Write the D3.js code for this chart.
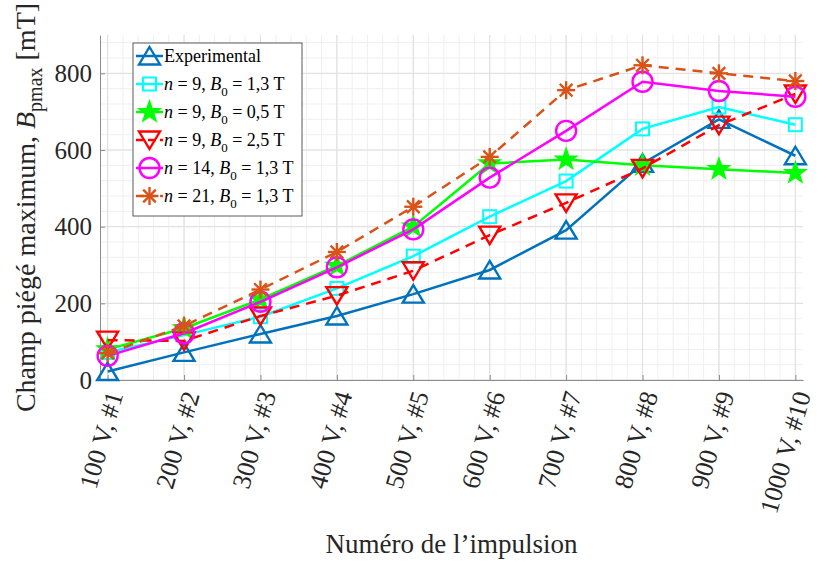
<!DOCTYPE html>
<html>
<head>
<meta charset="utf-8">
<script src="https://cdn.jsdelivr.net/npm/d3@7"></script>
<style>
  html, body { margin: 0; padding: 0; background: #fff; }
  svg { display: block; }
  text { font-family: "Liberation Serif", "Times New Roman", serif; }
</style>
</head>
<body>
<svg id="chart" width="819" height="561"></svg>
<script>
// ---------------- data ----------------
const categories = ["100 V, #1", "200 V, #2", "300 V, #3", "400 V, #4", "500 V, #5",
                    "600 V, #6", "700 V, #7", "800 V, #8", "900 V, #9", "1000 V, #10"];
const yTickValues = [0, 200, 400, 600, 800];

const experimental = [22, 72, 120, 167, 224, 287, 391, 565, 680, 585];
const n9B13 = [72, 117, 165, 239, 323, 426, 519, 655, 712, 666];
const n9B05 = [80, 135, 210, 298, 400, 565, 575, 560, 550, 540];
const n9B25 = [104, 102, 167, 220, 285, 378, 462, 552, 665, 746];
const n14B13 = [63, 122, 204, 294, 393, 528, 650, 778, 754, 739];
const n21B13 = [70, 141, 236, 334, 452, 582, 756, 821, 800, 780];

const seriesLabels = [
  { n: null, B0: null, text: "Experimental" },
  { n: "9", B0: "1,3" },
  { n: "9", B0: "0,5" },
  { n: "9", B0: "2,5" },
  { n: "14", B0: "1,3" },
  { n: "21", B0: "1,3" }
];

const series = [
  { values: experimental, color: "#0072BD", marker: "triUp",   dash: null },
  { values: n9B13,        color: "#00FFFF", marker: "square",  dash: null },
  { values: n9B05,        color: "#00FF00", marker: "star",    dash: null },
  { values: n9B25,        color: "#FF0000", marker: "triDown", dash: "10,7" },
  { values: n14B13,       color: "#FF00FF", marker: "circle",  dash: null },
  { values: n21B13,       color: "#D95319", marker: "asterisk",dash: "10,7" }
];

// ---------------- layout ----------------
const svg = d3.select("#chart");
const L = 100, R = 803, T = 35, B = 380;

const x = d3.scaleLinear().domain([0.9, 10.1]).range([L, R]);
const y = d3.scaleLinear().domain([0, 900]).range([B, T]);

// grid
const grid = svg.append("g");
const xMinor = d3.range(1, 10.1 + 1e-9, 0.2).filter(v => v >= 0.9 && v <= 10.1);
const yMinor = d3.range(0, 900 + 1e-9, 40);
grid.selectAll(".xm").data(xMinor).enter().append("line")
  .attr("x1", d => x(d)).attr("x2", d => x(d)).attr("y1", T).attr("y2", B)
  .attr("stroke", "#efefef").attr("stroke-width", 1);
grid.selectAll(".ym").data(yMinor).enter().append("line")
  .attr("x1", L).attr("x2", R).attr("y1", d => y(d)).attr("y2", d => y(d))
  .attr("stroke", "#efefef").attr("stroke-width", 1);
grid.selectAll(".xM").data(d3.range(1, 11)).enter().append("line")
  .attr("x1", d => x(d)).attr("x2", d => x(d)).attr("y1", T).attr("y2", B)
  .attr("stroke", "#dedede").attr("stroke-width", 1);
grid.selectAll(".yM").data(yTickValues).enter().append("line")
  .attr("x1", L).attr("x2", R).attr("y1", d => y(d)).attr("y2", d => y(d))
  .attr("stroke", "#dedede").attr("stroke-width", 1);

// axes
const axisColor = "#8c8c8c";
const xAxis = d3.axisBottom(x).tickValues(d3.range(1, 11)).tickSizeInner(-5).tickSizeOuter(0).tickFormat("");
const yAxis = d3.axisLeft(y).tickValues(yTickValues).tickSizeInner(-5).tickSizeOuter(0).tickFormat("");
const gx = svg.append("g").attr("transform", `translate(0,${B})`).call(xAxis);
const gy = svg.append("g").attr("transform", `translate(${L},0)`).call(yAxis);
[gx, gy].forEach(g => {
  g.select(".domain").attr("stroke", axisColor).attr("stroke-width", 1);
  g.selectAll(".tick line").attr("stroke", axisColor);
});

// y tick labels
svg.append("g").selectAll("text").data(yTickValues).enter().append("text")
  .attr("x", L - 8).attr("y", d => y(d)).attr("dy", "0.35em")
  .attr("text-anchor", "end").attr("font-size", 25).attr("fill", "#262626")
  .text(d => d);

// x tick labels (rotated)
svg.append("g").selectAll("text").data(categories).enter().append("text")
  .attr("transform", (d, i) => `translate(${x(i + 1) + 7},${B + 12}) rotate(-74)`)
  .attr("dy", "0.35em")
  .attr("text-anchor", "end").attr("font-size", 26).attr("fill", "#262626")
  .text(d => d);

// x label
svg.append("text").attr("x", (L + R) / 2).attr("y", 553)
  .attr("text-anchor", "middle").attr("font-size", 27).attr("fill", "#262626")
  .text("Numéro de l’impulsion");

// y label
const yl = svg.append("text")
  .attr("transform", `translate(35,${(T + B) / 2}) rotate(-90)`)
  .attr("text-anchor", "middle").attr("font-size", 28).attr("fill", "#262626");
yl.append("tspan").text("Champ piégé maximum, ");
yl.append("tspan").attr("font-style", "italic").text("B");
yl.append("tspan").attr("font-size", 20).attr("dy", 7).text("pmax");
yl.append("tspan").attr("dy", -7).text(" [mT]");

// marker drawing
function drawMarker(g, type, color) {
  switch (type) {
    case "triUp":
      g.append("path").attr("d", "M0,-9 L10.5,8.5 L-10.5,8.5 Z")
        .attr("fill", "none").attr("stroke", color).attr("stroke-width", 2.4);
      break;
    case "triDown":
      g.append("path").attr("d", "M0,9 L10.5,-8.5 L-10.5,-8.5 Z")
        .attr("fill", "none").attr("stroke", color).attr("stroke-width", 2.4);
      break;
    case "square":
      g.append("rect").attr("x", -6.5).attr("y", -6.5).attr("width", 13).attr("height", 13)
        .attr("fill", "none").attr("stroke", color).attr("stroke-width", 2);
      break;
    case "circle":
      g.append("circle").attr("r", 10)
        .attr("fill", "none").attr("stroke", color).attr("stroke-width", 2.4);
      break;
    case "star": {
      const pts = d3.range(10).map(k => {
        const r = k % 2 === 0 ? 11 : 4.4;
        const a = -Math.PI / 2 + k * Math.PI / 5;
        return [r * Math.cos(a), r * Math.sin(a)];
      });
      g.append("path").attr("d", "M" + pts.map(p => p.join(",")).join("L") + "Z")
        .attr("fill", color).attr("stroke", color).attr("stroke-width", 1.5);
      break;
    }
    case "asterisk": {
      const r = 9;
      const segs = [[0, -r, 0, r], [-r, 0, r, 0], [-r * 0.7, -r * 0.7, r * 0.7, r * 0.7], [-r * 0.7, r * 0.7, r * 0.7, -r * 0.7]];
      segs.forEach(s => g.append("line").attr("x1", s[0]).attr("y1", s[1]).attr("x2", s[2]).attr("y2", s[3])
        .attr("stroke", color).attr("stroke-width", 2.4));
      break;
    }
  }
}

// series
const line = d3.line().x((d, i) => x(i + 1)).y(d => y(d));
const plot = svg.append("g");
series.forEach(s => {
  const g = plot.append("g");
  g.append("path").datum(s.values).attr("d", line)
    .attr("fill", "none").attr("stroke", s.color).attr("stroke-width", 2.5)
    .attr("stroke-dasharray", s.dash);
  s.values.forEach((v, i) => {
    const mg = g.append("g").attr("transform", `translate(${x(i + 1)},${y(v)})`);
    drawMarker(mg, s.marker, s.color);
  });
});

// legend
const lg = svg.append("g");
const lx = 133, ly = 43, lw = 169, lh = 173;
lg.append("rect").attr("x", lx).attr("y", ly).attr("width", lw).attr("height", lh)
  .attr("fill", "#fff").attr("stroke", "#5a5a5a").attr("stroke-width", 1);
series.forEach((s, i) => {
  const cy = 56 + i * 28;
  lg.append("line").attr("x1", lx + 3).attr("x2", lx + 30).attr("y1", cy).attr("y2", cy)
    .attr("stroke", s.color).attr("stroke-width", 2.5).attr("stroke-dasharray", s.dash ? "8,4" : null);
  const mg = lg.append("g").attr("transform", `translate(${lx + 16.5},${cy})`);
  drawMarker(mg, s.marker, s.color);
  const t = lg.append("text").attr("x", lx + 31).attr("y", cy + 6)
    .attr("font-size", 18).attr("fill", "#000");
  const lab = seriesLabels[i];
  if (lab.text) {
    t.text(lab.text);
  } else {
    t.append("tspan").attr("font-style", "italic").text("n");
    t.append("tspan").text(` = ${lab.n}, `);
    t.append("tspan").attr("font-style", "italic").text("B");
    t.append("tspan").attr("font-size", 13).attr("dy", 6).text("0");
    t.append("tspan").attr("dy", -6).text(` = ${lab.B0} T`);
  }
});
</script>
</body>
</html>
